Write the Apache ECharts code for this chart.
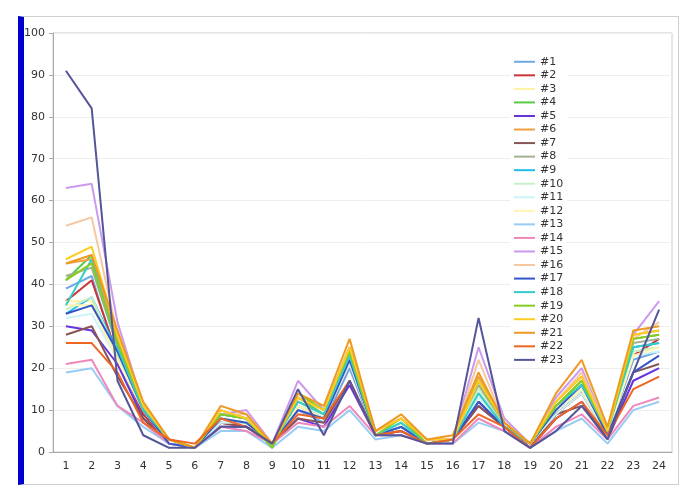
<!DOCTYPE html>
<html>
<head>
	<meta charset="UTF-8">
	<title>Line chart</title>
	<style>
		body { margin: 0; background: #fff; }
		#frame { position: absolute; left: 18px; top: 16px; width: 654px; height: 467px;
			border: 1px solid #d0d0d0; border-left: 6px solid #0000cc; }
		#main { position: absolute; left: 0; top: 0; width: 685px; height: 491px; }
	</style>
</head>
<body>
	<div id="frame"></div>
	<div id="main"></div>

	<script src="https://cdn.jsdelivr.net/npm/echarts@6/dist/echarts.min.js"></script>
	<script type="text/javascript">
		// categories on the x axis
		var categories = ['1','2','3','4','5','6','7','8','9','10','11','12','13','14','15','16','17','18','19','20','21','22','23','24'];

		var seriesNames = ['#1','#2','#3','#4','#5','#6','#7','#8','#9','#10','#11','#12','#13','#14','#15','#16','#17','#18','#19','#20','#21','#22','#23'];

		var seriesColors = ['#6fa8e6','#cc3333','#fff2a0','#55cc44','#6633dd','#f0a040','#885555','#a0b090',
			'#22bbee','#c8f0c8','#ccf4f8','#fff5b0','#99ccf5','#ee88bb','#cc99ee','#f5c8a0',
			'#3355cc','#33cccc','#88cc22','#ffcc22','#ee9922','#ee6622','#555599'];

		// values of each series
		var s1  = [39,42,22,9,2,1,7,7,2,10,7,20,4,6,2,3,12,6,1,9,14,4,22,24];
		var s2  = [36,41,23,9,2,1,7,6,2,10,8,21,4,6,2,3,12,6,2,9,14,4,23,27];
		var s3  = [36,36,22,10,2,1,8,7,2,11,8,22,4,7,2,3,14,6,2,10,16,4,24,25];
		var s4  = [41,47,26,11,3,1,9,8,1,13,9,24,4,7,2,3,17,6,2,11,17,5,27,28];
		var s5  = [30,29,21,8,2,1,6,6,2,8,6,16,4,5,2,3,11,6,1,8,12,3,17,20];
		var s6  = [45,46,27,11,3,1,10,8,2,13,10,25,5,8,3,3,18,7,2,12,18,5,28,29];
		var s7  = [28,30,18,8,2,1,7,6,2,8,7,17,4,5,2,3,11,6,1,9,11,4,19,21];
		var s8  = [42,44,25,11,3,1,9,8,2,12,9,24,4,7,2,3,16,6,2,11,16,5,26,27];
		var s9  = [33,37,24,10,2,1,8,7,2,11,8,22,4,6,2,3,14,6,2,10,15,4,25,26];
		var s10 = [34,37,23,10,2,1,8,7,2,11,9,22,4,7,2,3,15,6,2,10,15,4,24,25];
		var s11 = [32,33,22,10,2,1,7,7,2,10,8,21,4,6,2,3,13,6,2,9,14,4,23,24];
		var s12 = [35,35,22,10,2,1,8,7,2,11,8,22,4,7,2,3,14,6,2,10,15,4,23,25];
		var s13 = [19,20,11,6,2,1,5,5,1,6,5,10,3,4,2,2,7,5,1,5,8,2,10,12];
		var s14 = [21,22,11,7,2,1,6,5,2,7,6,11,4,4,2,2,8,5,1,6,9,3,11,13];
		var s15 = [63,64,31,11,3,1,9,10,2,17,10,25,5,8,3,3,25,8,2,13,20,5,28,36];
		var s16 = [54,56,28,11,3,1,9,9,2,14,10,24,5,8,3,3,22,7,2,12,19,5,27,31];
		var s17 = [33,35,24,10,2,1,8,7,2,10,8,22,4,6,2,3,12,6,2,10,16,4,19,23];
		var s18 = [35,46,25,10,3,1,9,8,2,12,9,23,4,7,2,3,14,6,2,11,16,5,25,26];
		var s19 = [41,45,26,11,3,1,9,8,1,14,10,24,4,8,2,3,17,7,2,11,17,5,27,28];
		var s20 = [46,49,28,11,3,1,10,8,2,13,10,25,5,8,3,3,17,7,2,12,18,5,28,29];
		var s21 = [45,47,29,12,3,1,11,9,2,14,11,27,5,9,3,4,19,7,2,14,22,6,29,30];
		var s22 = [26,26,19,7,3,2,8,6,2,9,8,17,4,5,2,3,9,6,1,8,12,4,15,18];
		var s23 = [91,82,17,4,1,1,6,6,2,15,4,17,4,4,2,2,32,5,1,5,11,3,19,34];

		var allValues = [s1,s2,s3,s4,s5,s6,s7,s8,s9,s10,s11,s12,s13,s14,s15,s16,s17,s18,s19,s20,s21,s22,s23];

		var myChart = echarts.init(document.getElementById('main'));

		var seriesList = [];
		for (var i = 0; i < seriesNames.length; i++) {
			seriesList.push({
				name: seriesNames[i],
				type: 'line',
				data: allValues[i],
				showSymbol: false,
				lineStyle: { width: 2, color: seriesColors[i] },
				itemStyle: { color: seriesColors[i] },
				animation: false
			});
		}

		var option = {
			textStyle: { fontFamily: 'DejaVu Sans' },
			grid: {
				left: 53, right: 13, top: 33, bottom: 39,
				show: true, borderColor: '#cccccc', borderWidth: 1
			},
			legend: {
				orient: 'vertical',
				left: 510,
				top: 55,
				icon: 'rect',
				itemWidth: 21,
				itemHeight: 2,
				itemGap: 0,
				padding: [0, 4, 0, 4],
				backgroundColor: '#ffffff',
				textStyle: { fontSize: 11, color: '#333', fontFamily: 'DejaVu Sans', lineHeight: 13.55 },
				data: seriesNames
			},
			xAxis: {
				type: 'category',
				data: categories,
				boundaryGap: true,
				axisLine: { lineStyle: { color: '#aaaaaa' } },
				axisTick: { lineStyle: { color: '#aaaaaa' }, length: 4 },
				axisLabel: { fontSize: 11, color: '#333', margin: 9 }
			},
			yAxis: {
				type: 'value',
				min: 0,
				max: 100,
				interval: 10,
				axisLine: { show: true, lineStyle: { color: '#aaaaaa' } },
				axisTick: { show: true, lineStyle: { color: '#aaaaaa' }, length: 4 },
				splitLine: { lineStyle: { color: '#eeeeee' } },
				axisLabel: { fontSize: 11, color: '#333', margin: 8 }
			},
			series: seriesList
		};

		myChart.setOption(option);
	</script>
</body>
</html>
